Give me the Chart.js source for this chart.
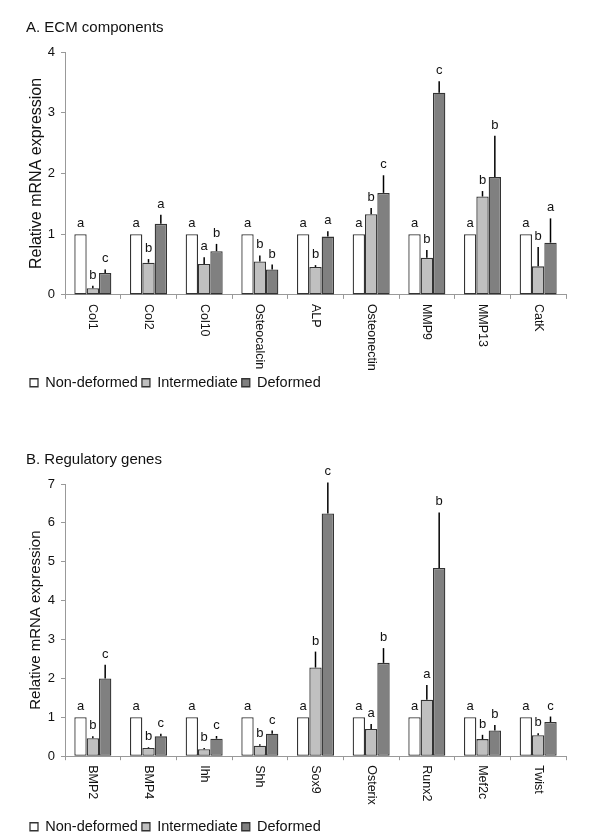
<!DOCTYPE html>
<html>
<head>
<meta charset="utf-8">
<script src="https://cdn.jsdelivr.net/npm/chart.js@4"></script>
<style>
  body { margin: 0; background: #fff; overflow: hidden; }
  canvas { position: absolute; left: 0; }
  #chart-ecm { top: 0; }
  #chart-reg { top: 432px; }
</style>
</head>
<body>
<canvas id="chart-ecm" width="600" height="400"></canvas>
<canvas id="chart-reg" width="600" height="412"></canvas>
<script>
// panel A - ECM components
var ecmGenes = ["Col1", "Col2", "Col10", "Osteocalcin", "ALP", "Osteonectin", "MMP9", "MMP13", "CatK"];
var ecmNon = [1, 1, 1, 1, 1, 1, 1, 1, 1];
var ecmInt = [0.11, 0.53, 0.51, 0.55, 0.46, 1.33, 0.61, 1.62, 0.47];
var ecmDef = [0.36, 1.17, 0.72, 0.42, 0.96, 1.68, 3.33, 1.94, 0.86];
var ecmIntErr = [0.04, 0.06, 0.11, 0.10, 0.03, 0.10, 0.13, 0.09, 0.32];
var ecmDefErr = [0.06, 0.15, 0.12, 0.08, 0.09, 0.29, 0.19, 0.68, 0.40];
var ecmNonLetters = ["a", "a", "a", "a", "a", "a", "a", "a", "a"];
var ecmIntLetters = ["b", "b", "a", "b", "b", "b", "b", "b", "b"];
var ecmDefLetters = ["c", "a", "b", "b", "a", "c", "c", "b", "a"];
var ecmTicks = [0, 1, 2, 3, 4];

// panel B - regulatory genes
var regGenes = ["BMP2", "BMP4", "Ihh", "Shh", "Sox9", "Osterix", "Runx2", "Mef2c", "Twist"];
var regNon = [1, 1, 1, 1, 1, 1, 1, 1, 1];
var regInt = [0.46, 0.21, 0.18, 0.27, 2.28, 0.70, 1.45, 0.44, 0.54];
var regDef = [2.00, 0.51, 0.45, 0.58, 6.24, 2.40, 4.84, 0.66, 0.88];
var regIntErr = [0.05, 0.02, 0.03, 0.04, 0.41, 0.13, 0.38, 0.11, 0.05];
var regDefErr = [0.35, 0.07, 0.07, 0.08, 0.80, 0.38, 1.43, 0.14, 0.14];
var regNonLetters = ["a", "a", "a", "a", "a", "a", "a", "a", "a"];
var regIntLetters = ["b", "b", "b", "b", "b", "a", "a", "b", "b"];
var regDefLetters = ["c", "c", "c", "c", "c", "b", "b", "b", "c"];
var regTicks = [0, 1, 2, 3, 4, 5, 6, 7];

var seriesNames = ["Non-deformed", "Intermediate", "Deformed"];
var zeros = [0, 0, 0, 0, 0, 0, 0, 0, 0];

var FONT = "'Liberation Sans', Arial, sans-serif";
var NARROW = "'Liberation Sans Narrow', 'Arial Narrow', 'Liberation Sans', Arial, sans-serif";

// error bars, significance letters and the vertical gene names
var barExtras = {
  id: "barExtras",
  afterDatasetsDraw: function (chart) {
    var ctx = chart.ctx;
    var yScale = chart.scales.y;
    var xScale = chart.scales.x;
    ctx.save();
    chart.data.datasets.forEach(function (ds, i) {
      var meta = chart.getDatasetMeta(i);
      meta.data.forEach(function (bar, j) {
        var err = ds.errors[j];
        var top = yScale.getPixelForValue(ds.data[j] + err);
        if (err > 0) {
          ctx.strokeStyle = "#000";
          ctx.lineWidth = 1.5;
          ctx.beginPath();
          ctx.moveTo(bar.x, bar.y);
          ctx.lineTo(bar.x, top);
          ctx.stroke();
        }
        ctx.fillStyle = "#111";
        ctx.font = "13px " + NARROW;
        ctx.textAlign = "center";
        ctx.textBaseline = "alphabetic";
        ctx.fillText(ds.letters[j], bar.x, top - 7);
      });
    });

    ctx.fillStyle = "#111";
    ctx.font = "12.5px " + FONT;
    ctx.textAlign = "left";
    ctx.textBaseline = "middle";
    chart.data.labels.forEach(function (label, j) {
      ctx.save();
      ctx.translate(xScale.getPixelForValue(j), chart.chartArea.bottom + 9);
      ctx.rotate(Math.PI / 2);
      ctx.fillText(label, 0, 0);
      ctx.restore();
    });
    ctx.restore();
  },
};

function makeChart(id, title, genes, non, inter, def, errs, letters, ticks, axisH, titleSize) {
  var ctx = document.getElementById(id).getContext("2d");
  var colors = ["#ffffff", "#c0c0c0", "#808080"];
  var values = [non, inter, def];

  var datasets = seriesNames.map(function (name, k) {
    return {
      label: name,
      data: values[k],
      errors: errs[k],
      letters: letters[k],
      backgroundColor: colors[k],
      borderColor: "#333",
      borderWidth: 1.3,
      borderSkipped: false,
      categoryPercentage: 0.665,
      barPercentage: 1.0,
    };
  });

  return new Chart(ctx, {
    type: "bar",
    data: { labels: genes, datasets: datasets },
    plugins: [barExtras],
    options: {
      responsive: false,
      animation: false,
      layout: { padding: { left: 26, right: 34, top: 0, bottom: 0 } },
      plugins: {
        tooltip: { enabled: false },
        title: {
          display: true,
          text: title,
          align: "start",
          color: "#111",
          font: { size: 15, family: FONT, weight: "normal" },
          padding: { top: 19, bottom: 15 },
        },
        legend: {
          position: "bottom",
          align: "start",
          labels: {
            boxWidth: 8,
            boxHeight: 8,
            padding: 4,
            color: "#111",
            font: { size: 14.5, family: FONT },
          },
        },
      },
      scales: {
        x: {
          grid: {
            display: true,
            drawOnChartArea: false,
            drawTicks: true,
            tickLength: 4,
            color: "#999",
          },
          border: { color: "#999" },
          ticks: { display: false },
          afterFit: function (scale) {
            scale.height = axisH;
          },
        },
        y: {
          min: ticks[0],
          max: ticks[ticks.length - 1],
          afterBuildTicks: function (scale) {
            scale.ticks = ticks.map(function (v) {
              return { value: v };
            });
          },
          grid: {
            drawOnChartArea: false,
            drawTicks: true,
            tickLength: 4,
            color: "#999",
          },
          border: { color: "#999" },
          ticks: {
            padding: 6,
            color: "#111",
            font: { size: 13, family: FONT },
          },
          title: {
            display: true,
            text: "Relative mRNA expression",
            color: "#111",
            font: { size: titleSize, family: FONT },
            padding: { top: 1, bottom: 0 },
          },
          afterFit: function (scale) {
            scale.width = 39;
          },
        },
      },
    },
  });
}

makeChart(
  "chart-ecm",
  "A. ECM components",
  ecmGenes,
  ecmNon,
  ecmInt,
  ecmDef,
  [zeros, ecmIntErr, ecmDefErr],
  [ecmNonLetters, ecmIntLetters, ecmDefLetters],
  ecmTicks,
  76.6,
  16
);

makeChart(
  "chart-reg",
  "B. Regulatory genes",
  regGenes,
  regNon,
  regInt,
  regDef,
  [zeros, regIntErr, regDefErr],
  [regNonLetters, regIntLetters, regDefLetters],
  regTicks,
  59.3,
  15
);
</script>
</body>
</html>
